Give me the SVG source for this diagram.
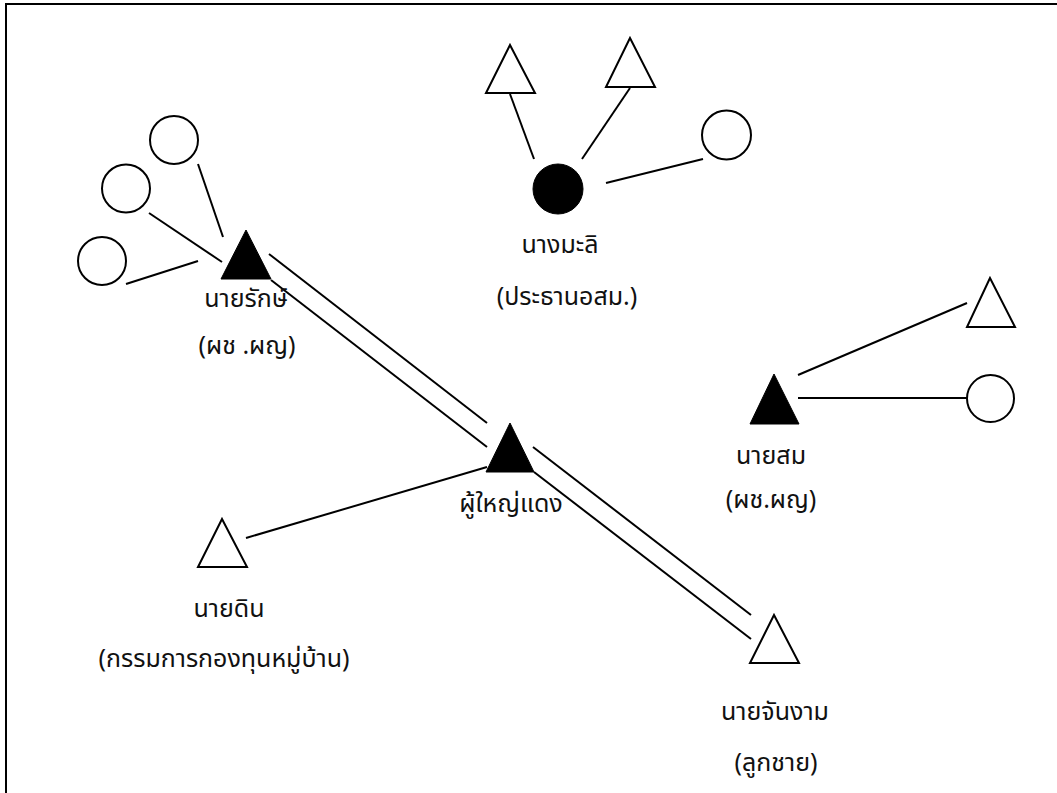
<svg xmlns="http://www.w3.org/2000/svg" width="1057" height="793" viewBox="0 0 1057 793">
<style>
.bg{fill:#fff}
.frame{fill:none;stroke:#000;stroke-width:2}
.open{fill:#fff;stroke:#000;stroke-width:2}
.solid{fill:#000;stroke:#000;stroke-width:1}
.ln{stroke:#000;stroke-width:2;fill:none}
text{font-family:"Noto Sans Thai","Noto Sans","DejaVu Sans",sans-serif;font-size:25px;fill:#111;text-anchor:middle}
</style>
<rect class="bg" x="0" y="0" width="1057" height="793"/>
<path class="frame" d="M6,800 V4 H1060"/>
<g id="connectors">
<line class="ln" x1="198" y1="164" x2="223" y2="237"/>
<line class="ln" x1="149" y1="213" x2="222" y2="262"/>
<line class="ln" x1="126" y1="284" x2="198" y2="261"/>
<line class="ln" x1="510" y1="94" x2="534" y2="159"/>
<line class="ln" x1="630" y1="88" x2="582" y2="159"/>
<line class="ln" x1="606" y1="183" x2="703" y2="159"/>
<line class="ln" x1="798" y1="375" x2="967" y2="303"/>
<line class="ln" x1="798" y1="398" x2="967" y2="398"/>
<line class="ln" x1="246" y1="538" x2="487" y2="467"/>
<line class="ln" x1="269" y1="254" x2="487" y2="423"/>
<line class="ln" x1="271" y1="280" x2="487" y2="447"/>
<line class="ln" x1="533" y1="447" x2="751" y2="615"/>
<line class="ln" x1="534" y1="472" x2="751" y2="639"/>
</g>
<g id="c1"><circle class="open" cx="174" cy="140" r="24"/></g>
<g id="c2"><circle class="open" cx="126" cy="188.5" r="24"/></g>
<g id="c3"><circle class="open" cx="102" cy="261" r="24"/></g>
<g id="n_rak">
<polygon class="solid" points="246,230 221,279 271,279"/>
<text x="246" y="307">นายรักษ์</text>
<text x="247" y="354">(ผช .ผญ)</text>
</g>
<g id="t1"><polygon class="open" points="510,45 486,93 535,93"/></g>
<g id="t2"><polygon class="open" points="630,38 606,87 655,87"/></g>
<g id="c4"><circle class="open" cx="726.5" cy="135" r="24.5"/></g>
<g id="n_mali">
<circle class="solid" cx="558" cy="189" r="25"/>
<text x="560" y="253">นางมะลิ</text>
<text x="567" y="305">(ประธานอสม.)</text>
</g>
<g id="t3"><polygon class="open" points="990,278 967,327 1015,327"/></g>
<g id="c5"><circle class="open" cx="990.5" cy="398.5" r="23.5"/></g>
<g id="n_som">
<polygon class="solid" points="774,374 750,424 799,424"/>
<text x="771" y="464">นายสม</text>
<text x="771" y="508">(ผช.ผญ)</text>
</g>
<g id="n_daeng">
<polygon class="solid" points="510,423 486,472 534,472"/>
<text x="511" y="512">ผู้ใหญ่แดง</text>
</g>
<g id="n_din">
<polygon class="open" points="222,519 198,567 247,567"/>
<text x="229" y="617">นายดิน</text>
<text x="224" y="667">(กรรมการกองทุนหมู่บ้าน)</text>
</g>
<g id="n_chan">
<polygon class="open" points="774,615 750,663 799,663"/>
<text x="775" y="720">นายจันงาม</text>
<text x="776" y="771">(ลูกชาย)</text>
</g>
</svg>
